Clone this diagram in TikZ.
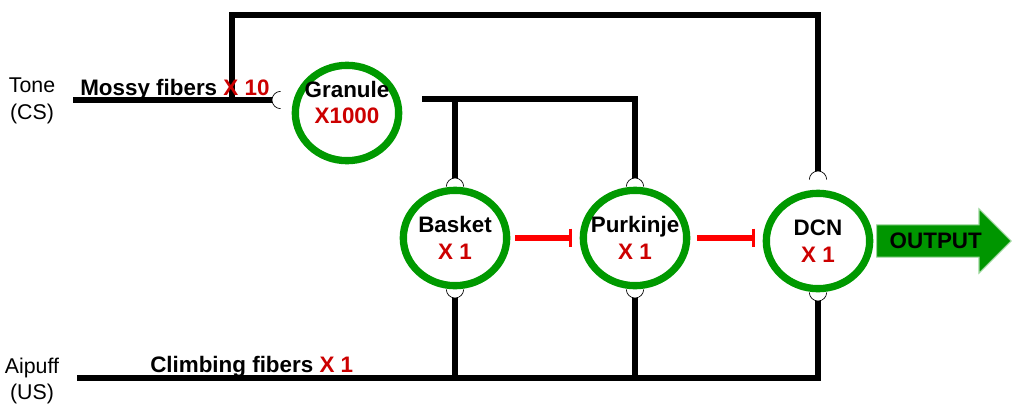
\documentclass[tikz,border=0pt]{standalone}
\usepackage{fontspec}
\setmainfont{Liberation Sans}
\usetikzlibrary{positioning, shapes.geometric, shapes.arrows, arrows.meta}

\definecolor{cellgreen}{RGB}{0,153,0}
\definecolor{outgreen}{RGB}{0,150,0}
\definecolor{countred}{RGB}{204,0,0}
\newcommand{\cnt}[1]{\textcolor{countred}{#1}}

\tikzset{
	cell/.style={ellipse, draw=cellgreen, line width=5.5pt, minimum width=77.5pt, minimum height=71.5pt, inner sep=0pt},
	celltext/.style={font=\fontsize{16.8}{20}\selectfont\bfseries, align=center, inner sep=0pt},
	fiber/.style={line width=4.5pt, line join=miter},
	inhibit/.style={draw=red, line width=4.5pt, -{Bar[width=14pt, line width=2.2pt]}},
	synapse/.pic={\draw[line width=0.5pt] (-6.5pt,0) arc[start angle=180, end angle=0, radius=6.5pt];},
	fiberlabel/.style={font=\fontsize{16.8}{20}\selectfont\bfseries, inner sep=0pt, anchor=base west},
	inputlabel/.style={font=\fontsize{16}{20}\selectfont, align=center, inner sep=0pt},
	outarrow/.style={single arrow, fill=outgreen, draw=outgreen!40, line width=0.8pt, single arrow head extend=12pt, single arrow tip angle=90, minimum height=101pt, inner ysep=5.8pt, inner xsep=3pt, font=\fontsize{16.8}{20}\selectfont\bfseries}
}

\begin{document}
\begin{tikzpicture}[x=0.75pt, y=-0.75pt]
	\useasboundingbox (0,0) rectangle (1013,411);

	% Granule cell
	\node[cell, label={[celltext, yshift=8pt]center:{Granule\\\cnt{X1000}}}] (granule) at (347,113) {};

	% Basket, Purkinje and DCN cells
	\foreach \name/\x/\y/\txt in {basket/455/238/Basket, purkinje/635/238/Purkinje, dcn/818/241/DCN} {
		\node[cell, label={[celltext]center:{\txt\\\cnt{X 1}}}] (\name) at (\x,\y) {};
		\pic[rotate=180] at (\name.south) {synapse};
		\coordinate (\name-bot) at ([yshift=-6.5pt]\name.south);
	}

	% Synapses on top
	\foreach \name in {basket, purkinje} {
		\pic at (\name.north) {synapse};
		\coordinate (\name-top) at ([yshift=6.5pt]\name.north);
	}
	\pic at ([yshift=7.5pt]dcn.north) {synapse};
	\coordinate (dcn-top) at ([yshift=14pt]dcn.north);

	% Input labels
	\node[inputlabel] (tone) at (32,101) {Tone\\(CS)};
	\node[inputlabel] (airpuff) at (32,381) {Aipuff\\(US)};

	% Mossy fibers
	\coordinate (mossyIn) at (73,100);
	\coordinate (granuleIn) at (272,100);
	\coordinate (mossyBranch) at (232,100);
	\draw[fiber] (mossyIn) -- (granuleIn);
	\pic[rotate=90] at ([xshift=6.5pt]granuleIn) {synapse};
	\draw[fiber] (mossyBranch) -- (232,15) -| (dcn-top);
	\node[fiberlabel] (mossyLabel) at (80,95) {Mossy fibers \cnt{X 10}};

	% Parallel fibers
	\coordinate (parallelL) at (422,99);
	\draw[fiber] (parallelL) -| (purkinje-top);
	\draw[fiber] (basket-top |- parallelL) -- (basket-top);

	% Climbing fibers
	\coordinate (climbIn) at (77,378);
	\draw[fiber] (climbIn) -| (dcn-bot);
	\draw[fiber] (basket-bot |- climbIn) -- (basket-bot);
	\draw[fiber] (purkinje-bot |- climbIn) -- (purkinje-bot);
	\node[fiberlabel] (climbLabel) at (150,372) {Climbing fibers \cnt{X 1}};

	% Inhibition
	\draw[inhibit, shorten <=3.75pt, shorten >=6pt] (basket.east) -- (purkinje.west);
	\draw[inhibit, shorten <=5pt, shorten >=6pt] (purkinje.east) -- (purkinje.east -| dcn.west);

	% Output
	\node[outarrow, right=2pt of dcn] (output) {OUTPUT};
\end{tikzpicture}
\end{document}
